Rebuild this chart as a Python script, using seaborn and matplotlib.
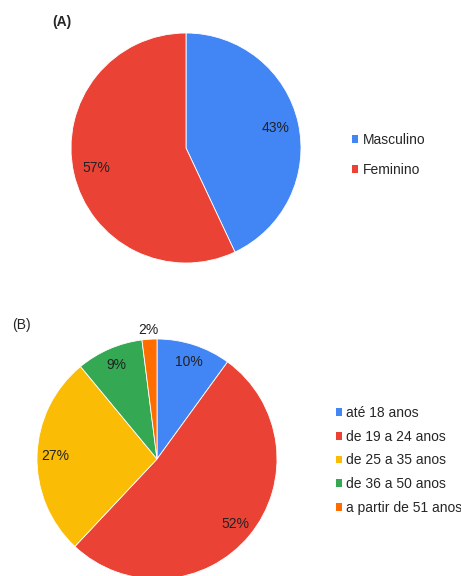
import numpy as np
import seaborn as sns
import matplotlib.pyplot as plt
from matplotlib.patches import Patch

# (A) sexo
sexo_labels = ['Masculino', 'Feminino']
sexo_values = [43, 57]
sexo_colors = ['#4285F4', '#EA4335']

# (B) faixa etaria
idade_labels = ['até 18 anos', 'de 19 a 24 anos', 'de 25 a 35 anos',
                'de 36 a 50 anos', 'a partir de 51 anos']
idade_values = [10, 52, 27, 9, 2]
idade_colors = ['#4285F4', '#EA4335', '#FBBC05', '#34A853', '#FF6D01']

sns.set_theme(style='white')
plt.rcParams['font.family'] = ['Liberation Sans', 'DejaVu Sans']

W, H = 461, 576
fig = plt.figure(figsize=(W / 100, H / 100), dpi=100)


def pie_axes(cx, cy, r):
    # axes covering exactly the circle, given in pixels from top-left
    return fig.add_axes([(cx - r) / W, 1 - (cy + r) / H, 2 * r / W, 2 * r / H])


def legend(ax, labels, colors, x, y, spacing):
    handles = [Patch(facecolor=c, edgecolor='none') for c in colors]
    ax.legend(handles, labels, loc='upper left', bbox_to_anchor=(x / W, 1 - y / H),
              bbox_transform=fig.transFigure, frameon=False, fontsize=10,
              handlelength=0.45, handleheight=0.45, handletextpad=0.3,
              borderpad=0, borderaxespad=0, labelspacing=spacing)


# ---- (A)
ax_a = pie_axes(186, 148, 115)
wedges, texts, autotexts = ax_a.pie(
    sexo_values, colors=sns.color_palette(sexo_colors), startangle=90,
    counterclock=False, autopct='%1.0f%%', pctdistance=0.8,
    wedgeprops=dict(edgecolor='white', linewidth=0.6),
    textprops=dict(fontsize=10, color='#222222'))
ax_a.set_xlim(-1, 1)
ax_a.set_ylim(-1, 1)
legend(ax_a, sexo_labels, sexo_colors, 352, 133, 1.15)
fig.text(52 / W, 1 - 22 / H, '(A)', fontsize=10, fontweight='bold', va='center')

# ---- (B)
ax_b = pie_axes(157, 459, 120)
wedges, texts, autotexts = ax_b.pie(
    idade_values, colors=sns.color_palette(idade_colors), startangle=90,
    counterclock=False, autopct='%1.0f%%', pctdistance=0.85,
    wedgeprops=dict(edgecolor='white', linewidth=0.6),
    textprops=dict(fontsize=10, color='#222222'))
# small slice label goes outside
w, t = wedges[-1], autotexts[-1]
ang = np.deg2rad((w.theta1 + w.theta2) / 2)
t.set_position((1.08 * np.cos(ang), 1.08 * np.sin(ang)))
ax_b.set_xlim(-1, 1)
ax_b.set_ylim(-1, 1)
legend(ax_b, idade_labels, idade_colors, 336, 406, 0.7)
fig.text(12 / W, 1 - 325 / H, '(B)', fontsize=10, va='center')

plt.savefig('out.png', dpi=100)
